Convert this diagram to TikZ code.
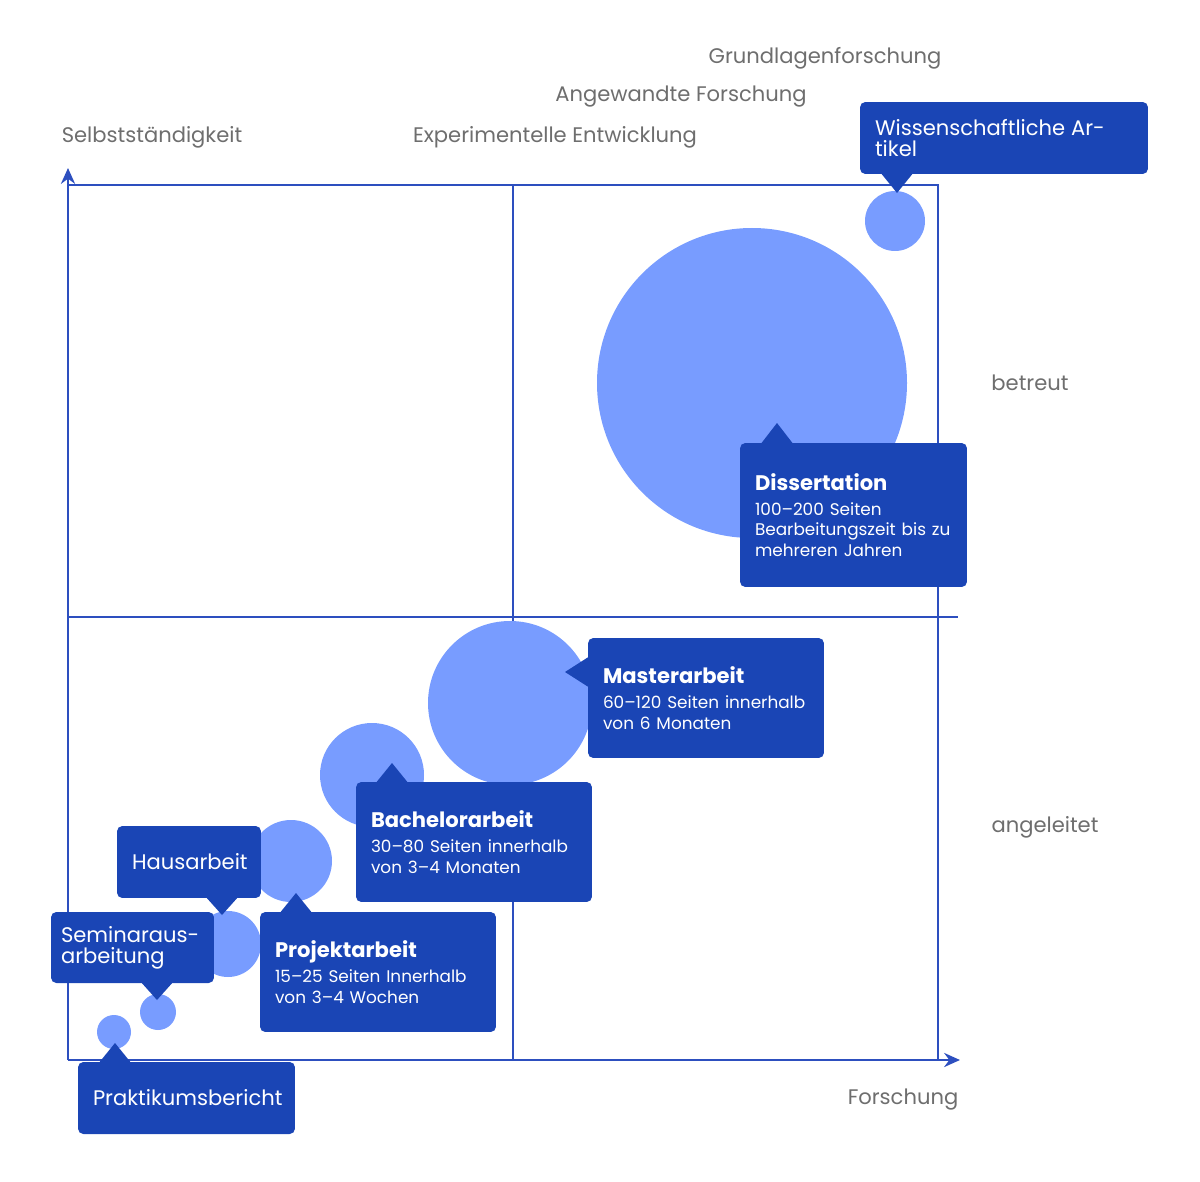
\documentclass[tikz,border=0pt]{standalone}
\usepackage{fontspec}
\setmainfont{Poppins}
\usetikzlibrary{positioning,arrows.meta}
\definecolor{dkblue}{HTML}{1A45B5}
\definecolor{ltblue}{HTML}{789CFF}
\definecolor{lineblue}{HTML}{2D4FBF}
\definecolor{lbl}{HTML}{6E6E6E}
\tikzset{
    axis/.style={draw=lineblue, line width=1.6pt},
    grid line/.style={draw=lineblue, line width=1.2pt},
    bubble/.style={fill=ltblue, draw=none},
    label/.style={text=lbl, font=\fontsize{12}{14}\selectfont},
    box/.style={
        fill=dkblue,
        text=white,
        rectangle, % Set the shape as a rectangle
        rounded corners=3pt,
        inner sep=0pt,
        align=left,
    },
    tip/.style={fill=dkblue, draw=none},
}
\newcommand{\boxtext}[2]{{\fontsize{12}{14}\selectfont\bfseries #1}\\[3pt]{\fontsize{9.6}{11.3}\selectfont #2}}
\begin{document}
\begin{tikzpicture}[x=0.02cm, y=-0.02cm]
    \useasboundingbox (0,0) rectangle (1200,1182);

    % frame and axes
    \coordinate (o) at (68,1060);
    \coordinate (ytop) at (68,168);
    \coordinate (xend) at (960,1060);
    \draw[grid line] (68,185) -- (938,185) -- (938,1060);
    \draw[grid line] (513,185) -- (513,1060);
    \draw[grid line] (68,617) -- (958,617);
    \draw[axis, -{Stealth[length=9pt,width=8pt]}] (o) -- (ytop);
    \draw[axis, -{Stealth[length=9pt,width=8pt]}] (o) -- (xend);

    % axis labels
    \node[label] (grund) at (825,58) {Grundlagenforschung};
    \node[label] (angew) at (681,97) {Angewandte Forschung};
    \node[label] (exp) at (555,137) {Experimentelle Entwicklung};
    \node[label] (selbst) at (152,137) {Selbstständigkeit};
    \node[label] (betreut) at (1030,383) {betreut};
    \node[label] (angel) at (1045,827) {angeleitet};
    \node[label] (forsch) at (903,1100) {Forschung};

    % bubbles
    \fill[bubble] (895,221) circle (30);
    \fill[bubble] (752,383) circle (155);
    \fill[bubble] (510,703) circle (82);
    \fill[bubble] (372,775) circle (52);
    \fill[bubble] (291,861) circle (41);
    \fill[bubble] (228,944) circle (33);
    \fill[bubble] (158,1012) circle (18);
    \fill[bubble] (114,1032) circle (17);

    % pointers
    \fill[tip] (880,172) -- (897,193) -- (914,172) -- cycle;
    \fill[tip] (760,445) -- (777,423) -- (794,445) -- cycle;
    \fill[tip] (590,656) -- (565,672) -- (590,688) -- cycle;
    \fill[tip] (375,784) -- (392,763) -- (409,784) -- cycle;
    \fill[tip] (205,896) -- (222,915) -- (239,896) -- cycle;
    \fill[tip] (279,914) -- (296,893) -- (313,914) -- cycle;
    \fill[tip] (140,981) -- (157,1000) -- (174,981) -- cycle;
    \fill[tip] (98,1064) -- (115,1043) -- (132,1064) -- cycle;

    % boxes
    \node[box, minimum width=5.76cm, minimum height=1.44cm, text width=5.16cm] (wiss) at (1004,138)
        {\fontsize{12}{14}\selectfont Wissenschaftliche Artikel};
    \node[box, minimum width=4.54cm, minimum height=2.88cm, text width=3.94cm] (diss) at (853.5,515)
        {\boxtext{Dissertation}{100–200 Seiten\\Bearbeitungszeit bis zu\\mehreren Jahren}};
    \node[box, minimum width=4.72cm, minimum height=2.4cm, text width=4.12cm] (master) at (706,698)
        {\boxtext{Masterarbeit}{60–120 Seiten innerhalb\\von 6 Monaten}};
    \node[box, minimum width=4.72cm, minimum height=2.4cm, text width=4.12cm] (bach) at (474,842)
        {\boxtext{Bachelorarbeit}{30–80 Seiten innerhalb\\von 3–4 Monaten}};
    \node[box, minimum width=2.88cm, minimum height=1.44cm, text width=2.28cm] (haus) at (189,862)
        {\fontsize{12}{14}\selectfont Hausarbeit};
    \node[box, minimum width=4.72cm, minimum height=2.4cm, text width=4.12cm] (proj) at (378,972)
        {\boxtext{Projektarbeit}{15–25 Seiten Innerhalb\\von 3–4 Wochen}};
    \node[box, minimum width=3.26cm, minimum height=1.42cm, text width=2.86cm] (sem) at (132.5,947.5)
        {\fontsize{12}{14}\selectfont Seminaraus-\\arbeitung};
    \node[box, minimum width=4.34cm, minimum height=1.44cm, text width=3.74cm] (prak) at (186.5,1098)
        {\fontsize{12}{14}\selectfont Praktikumsbericht};
\end{tikzpicture}
\end{document}
